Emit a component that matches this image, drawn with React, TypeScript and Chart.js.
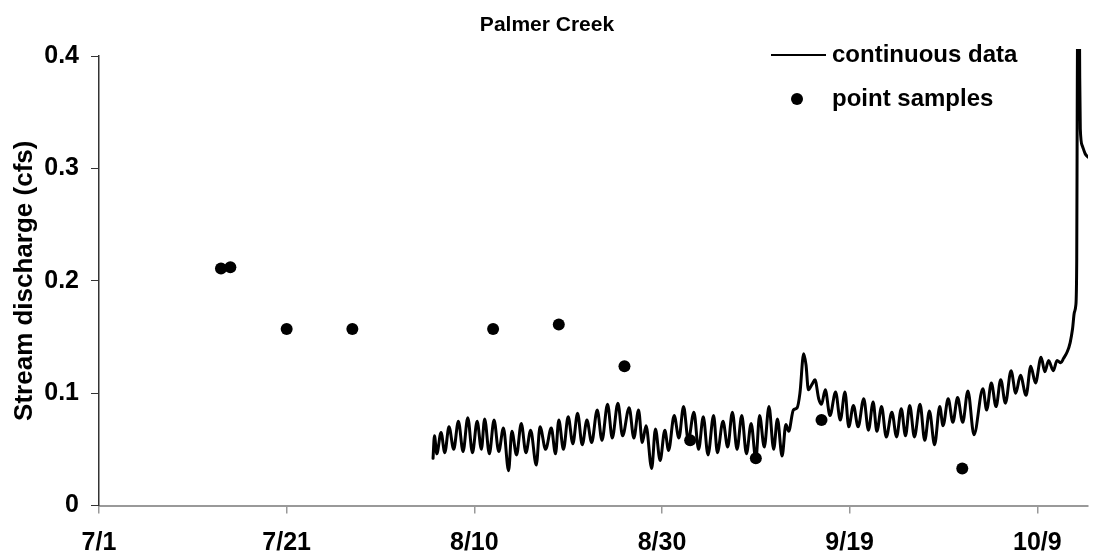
import React, { useEffect, useRef } from 'react';
import { Chart, registerables } from 'chart.js';

Chart.register(...registerables);

const FONT = '"Liberation Sans", Arial, sans-serif';
const TITLE = 'Palmer Creek';
const Y_TITLE = 'Stream discharge (cfs)';
const LEGEND_LINE = 'continuous data';
const LEGEND_POINT = 'point samples';

// days since 7/1
const X_TICK_DAYS = [0, 20, 40, 60, 80, 100];
const X_TICK_LABELS = ['7/1', '7/21', '8/10', '8/30', '9/19', '10/9'];
const Y_TICKS = [0, 0.1, 0.2, 0.3, 0.4];
const Y_TICK_LABELS = ['0', '0.1', '0.2', '0.3', '0.4'];

const SAMPLE_DAYS = [13, 14, 20, 27, 42, 49, 56, 63, 70, 77, 92];
const SAMPLE_FLOW = [0.211, 0.212, 0.157, 0.157, 0.157, 0.161, 0.124, 0.058, 0.042, 0.076, 0.033];

const CONT_DAYS = [
  35.6, 35.75, 36.0, 36.45, 36.85, 37.3, 37.8, 38.3, 38.8, 39.3, 39.8, 40.3, 40.75, 41.1, 41.6,
  42.1, 42.6, 43.1, 43.65, 44.0, 44.5, 45.0, 45.5, 46.0, 46.6, 47.0, 47.6, 48.2, 48.65, 49.0,
  49.5, 50.0, 50.5, 51.0, 51.5, 52.0, 52.5, 53.1, 53.6, 54.2, 54.7, 55.3, 55.8, 56.5, 57.0,
  57.5, 57.9, 58.3, 58.9, 59.3, 59.8, 60.3, 60.7, 61.3, 61.8, 62.3, 62.8, 63.4, 63.9, 64.4,
  64.9, 65.5, 65.9, 66.5, 67.0, 67.5, 68.0, 68.5, 69.0, 69.5, 70.0, 70.4, 70.9, 71.4, 71.9,
  72.3, 72.8, 73.2, 73.5, 74.0, 74.4, 74.7, 75.1, 75.35, 75.6, 76.0, 76.3, 76.7, 77.0, 77.4,
  77.9, 78.5, 79.0, 79.5, 79.9, 80.4, 80.9, 81.5, 82.0, 82.5, 82.9, 83.4, 83.9, 84.5, 85.0,
  85.5, 85.95, 86.4, 86.9, 87.5, 88.0, 88.5, 89.05, 89.6, 89.95, 90.5, 91.0, 91.5, 92.05, 92.6,
  93.25, 94.2, 94.6, 95.1, 95.6, 96.1, 96.6, 97.2, 97.7, 98.2, 98.8, 99.3, 99.8, 100.4, 100.8,
  101.2, 101.7, 102.1, 102.5, 102.8, 103.2, 103.5, 103.75, 103.95, 104.1, 104.2, 104.25, 104.3, 104.45, 104.52,
  104.58, 104.8, 105.1, 105.4,
];
const CONT_FLOW = [
  0.042, 0.062, 0.046, 0.065, 0.047, 0.070, 0.050, 0.075, 0.048, 0.078, 0.047, 0.075, 0.050, 0.077, 0.046,
  0.076, 0.048, 0.069, 0.031, 0.066, 0.045, 0.073, 0.047, 0.067, 0.036, 0.070, 0.050, 0.069, 0.046, 0.076,
  0.050, 0.079, 0.055, 0.082, 0.054, 0.076, 0.056, 0.085, 0.058, 0.090, 0.060, 0.091, 0.062, 0.087, 0.060,
  0.085, 0.056, 0.071, 0.033, 0.068, 0.040, 0.067, 0.049, 0.080, 0.060, 0.088, 0.058, 0.083, 0.050, 0.079,
  0.045, 0.080, 0.047, 0.075, 0.052, 0.083, 0.050, 0.080, 0.046, 0.073, 0.041, 0.080, 0.052, 0.088, 0.050,
  0.077, 0.044, 0.072, 0.066, 0.085, 0.087, 0.100, 0.135, 0.125, 0.103, 0.108, 0.112, 0.095, 0.090, 0.103,
  0.080, 0.101, 0.076, 0.101, 0.070, 0.089, 0.070, 0.095, 0.067, 0.092, 0.066, 0.088, 0.061, 0.083, 0.061,
  0.086, 0.062, 0.089, 0.061, 0.090, 0.058, 0.084, 0.054, 0.088, 0.071, 0.095, 0.074, 0.096, 0.074, 0.102,
  0.063, 0.104, 0.085, 0.109, 0.088, 0.112, 0.091, 0.120, 0.100, 0.116, 0.098, 0.124, 0.109, 0.132, 0.119,
  0.129, 0.120, 0.129, 0.127, 0.131, 0.137, 0.145, 0.157, 0.172, 0.178, 0.220, 0.350, 0.450, 0.470, 0.380,
  0.335, 0.320, 0.313, 0.310,
];

const overlayPlugin = {
  id: 'overlay',
  afterDraw(chart: any) {
    const ctx = chart.ctx as CanvasRenderingContext2D;
    ctx.save();
    ctx.fillStyle = '#000';
    ctx.font = `bold 21px ${FONT}`;
    ctx.textAlign = 'center';
    ctx.textBaseline = 'middle';
    ctx.fillText(TITLE, chart.width / 2, 25);

    ctx.font = `bold 24px ${FONT}`;
    ctx.textAlign = 'left';
    ctx.strokeStyle = '#000';
    ctx.lineWidth = 2;
    ctx.beginPath();
    ctx.moveTo(771, 55);
    ctx.lineTo(826, 55);
    ctx.stroke();
    ctx.fillText(LEGEND_LINE, 832, 55);

    ctx.beginPath();
    ctx.arc(797, 99, 6, 0, Math.PI * 2);
    ctx.fill();
    ctx.fillText(LEGEND_POINT, 832, 99);
    ctx.restore();
  },
};

export default function App() {
  const ref = useRef<HTMLCanvasElement | null>(null);
  useEffect(() => {
    if (!ref.current) return;
    const chart = new Chart(ref.current, {
      type: 'scatter',
      data: {
        datasets: [
          {
            label: LEGEND_LINE,
            data: CONT_DAYS.map((d, i) => ({ x: d, y: CONT_FLOW[i] })),
            showLine: true,
            borderColor: '#000',
            backgroundColor: '#000',
            borderWidth: 3,
            pointRadius: 0,
            cubicInterpolationMode: 'monotone',
            borderJoinStyle: 'round',
            borderCapStyle: 'round',
            clip: { left: 0, top: 7, right: 0, bottom: 0 },
          } as any,
          {
            label: LEGEND_POINT,
            data: SAMPLE_DAYS.map((d, i) => ({ x: d, y: SAMPLE_FLOW[i] })),
            showLine: false,
            pointRadius: 6,
            pointBackgroundColor: '#000',
            pointBorderColor: '#000',
            pointBorderWidth: 0,
          },
        ],
      },
      options: {
        animation: false,
        responsive: false,
        devicePixelRatio: 1,
        layout: { padding: { top: 56, left: 0, right: 0, bottom: 0 } },
        plugins: {
          legend: { display: false },
          tooltip: { enabled: false },
          title: { display: false },
        },
        scales: {
          x: {
            type: 'linear',
            min: 0,
            max: 105.4,
            afterBuildTicks: (scale: any) => {
              scale.ticks = X_TICK_DAYS.map((v) => ({ value: v }));
            },
            afterFit: (scale: any) => {
              scale.height = 53.5;
            },
            ticks: {
              autoSkip: false,
              maxRotation: 0,
              padding: 15,
              color: '#000',
              font: { family: FONT, size: 25, weight: 'bold' },
              callback: (v: any) => X_TICK_LABELS[X_TICK_DAYS.indexOf(Number(v))] ?? '',
            },
            grid: {
              display: true,
              drawOnChartArea: false,
              drawTicks: true,
              tickLength: 8,
              color: '#999',
              lineWidth: 1.5,
            },
            border: { display: true, color: '#999', width: 2 },
          },
          y: {
            type: 'linear',
            min: 0,
            max: 0.4,
            afterBuildTicks: (scale: any) => {
              scale.ticks = Y_TICKS.map((v) => ({ value: v }));
            },
            afterFit: (scale: any) => {
              scale.width = 99;
            },
            ticks: {
              padding: 12,
              color: '#000',
              font: { family: FONT, size: 25, weight: 'bold' },
              callback: (v: any) => {
                const i = Y_TICKS.findIndex((t) => Math.abs(t - Number(v)) < 1e-9);
                return i >= 0 ? Y_TICK_LABELS[i] : '';
              },
            },
            title: {
              display: true,
              text: Y_TITLE,
              color: '#000',
              font: { family: FONT, size: 26, weight: 'bold' },
              padding: { top: 9, bottom: 0 },
            },
            grid: {
              display: true,
              drawOnChartArea: false,
              drawTicks: true,
              tickLength: 8,
              color: '#333',
              lineWidth: 1,
            },
            border: { display: true, color: '#333', width: 1.5 },
          },
        },
      },
      plugins: [overlayPlugin],
    } as any);
    return () => chart.destroy();
  }, []);
  return (
    <div style={{ position: 'absolute', left: 0, top: 0, width: 1094, height: 559 }}>
      <canvas ref={ref} width={1094} height={559} style={{ display: 'block' }} />
    </div>
  );
}
